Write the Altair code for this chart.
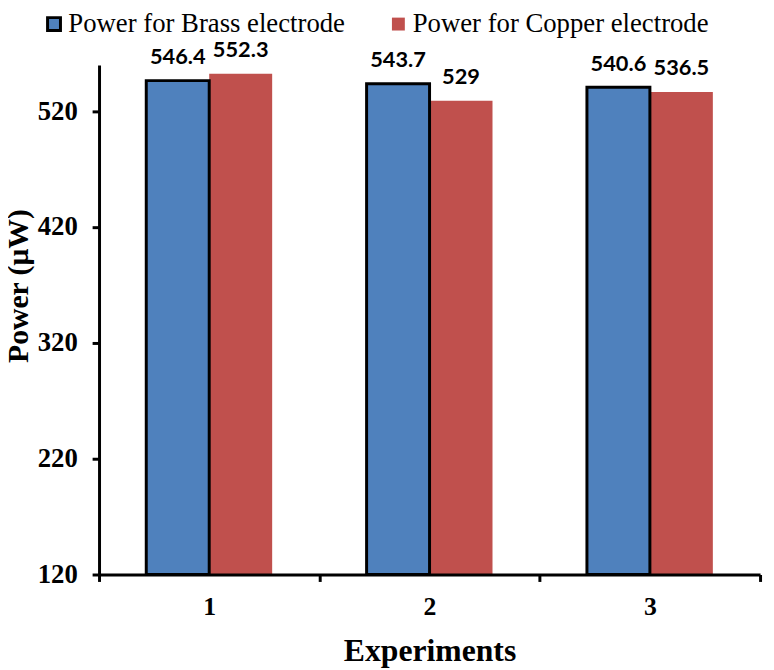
import altair as alt
import pandas as pd

experiments = ["1", "2", "3"]
series = ["Power for Brass electrode", "Power for Copper electrode"]
brass = [546.4, 543.7, 540.6]
copper = [552.3, 529, 536.5]
y_ticks = [120, 220, 320, 420, 520]
y_domain = [120, 560]
colors = ["#4F81BD", "#C0504D"]
strokes = ["#000000", "rgba(0,0,0,0)"]

rows = []
for e, v in zip(experiments, copper):
    rows.append({"exp": e, "series": series[1], "power": v, "label": f"{v:g}"})
for e, v in zip(experiments, brass):
    rows.append({"exp": e, "series": series[0], "power": v, "label": f"{v:g}"})
df = pd.DataFrame(rows)

serif = "Liberation Serif"

legend = alt.Legend(
    title=None, orient="none", direction="horizontal",
    legendX=-59, legendY=-55,
    symbolType="square", symbolSize=170, symbolStrokeWidth=3,
    labelFont=serif, labelFontSize=27, labelColor="black",
    labelOffset=1, columnPadding=40, labelLimit=600,
)

x = alt.X(
    "exp:N", sort=experiments, title="Experiments",
    scale=alt.Scale(paddingInner=0, paddingOuter=0),
    axis=alt.Axis(
        labelAngle=0, tickBand="extent", grid=False, zindex=1,
        domainColor="black", domainWidth=3, tickColor="black", tickWidth=3, tickSize=7,
        labelFont=serif, labelFontWeight="bold", labelFontSize=26, labelColor="black", labelPadding=12,
        titleFont=serif, titleFontWeight="bold", titleFontSize=32, titleColor="black", titlePadding=17,
    ),
)
xo = alt.XOffset("series:N", sort=series,
                 scale=alt.Scale(domain=series, paddingInner=0, paddingOuter=0.75))
y = alt.Y(
    "power:Q", title="Power (μW)",
    scale=alt.Scale(domain=y_domain, nice=False, zero=False),
    axis=alt.Axis(
        values=y_ticks, grid=False, zindex=1,
        domainColor="black", domainWidth=3, tickColor="black", tickWidth=3, tickSize=7,
        labelFont=serif, labelFontWeight="bold", labelFontSize=27, labelColor="black", labelPadding=15,
        titleFont=serif, titleFontWeight="bold", titleFontSize=30, titleColor="black", titlePadding=4,
        titleY=223,
    ),
)

base = alt.Chart(df)
bars = base.mark_bar(strokeWidth=3).encode(
    x=x, xOffset=xo, y=y, y2=alt.Y2(datum=y_domain[0]),
    color=alt.Color("series:N", scale=alt.Scale(domain=series, range=colors), legend=legend),
    stroke=alt.Stroke("series:N", scale=alt.Scale(domain=series, range=strokes), legend=legend),
)
labels = base.mark_text(
    font="Lato", fontWeight="bold", fontSize=22, baseline="middle", dy=-24, color="black"
).encode(x=x, xOffset=xo, y=y, text="label:N")

chart = (bars + labels).properties(
    width=668, height=515,
    autosize=alt.AutoSizeParams(type="none"),
    padding={"left": 92, "top": 54, "right": 6, "bottom": 92},
).configure_view(stroke=None)

chart.save("out.html", embed_options={"renderer": "svg", "actions": False})
